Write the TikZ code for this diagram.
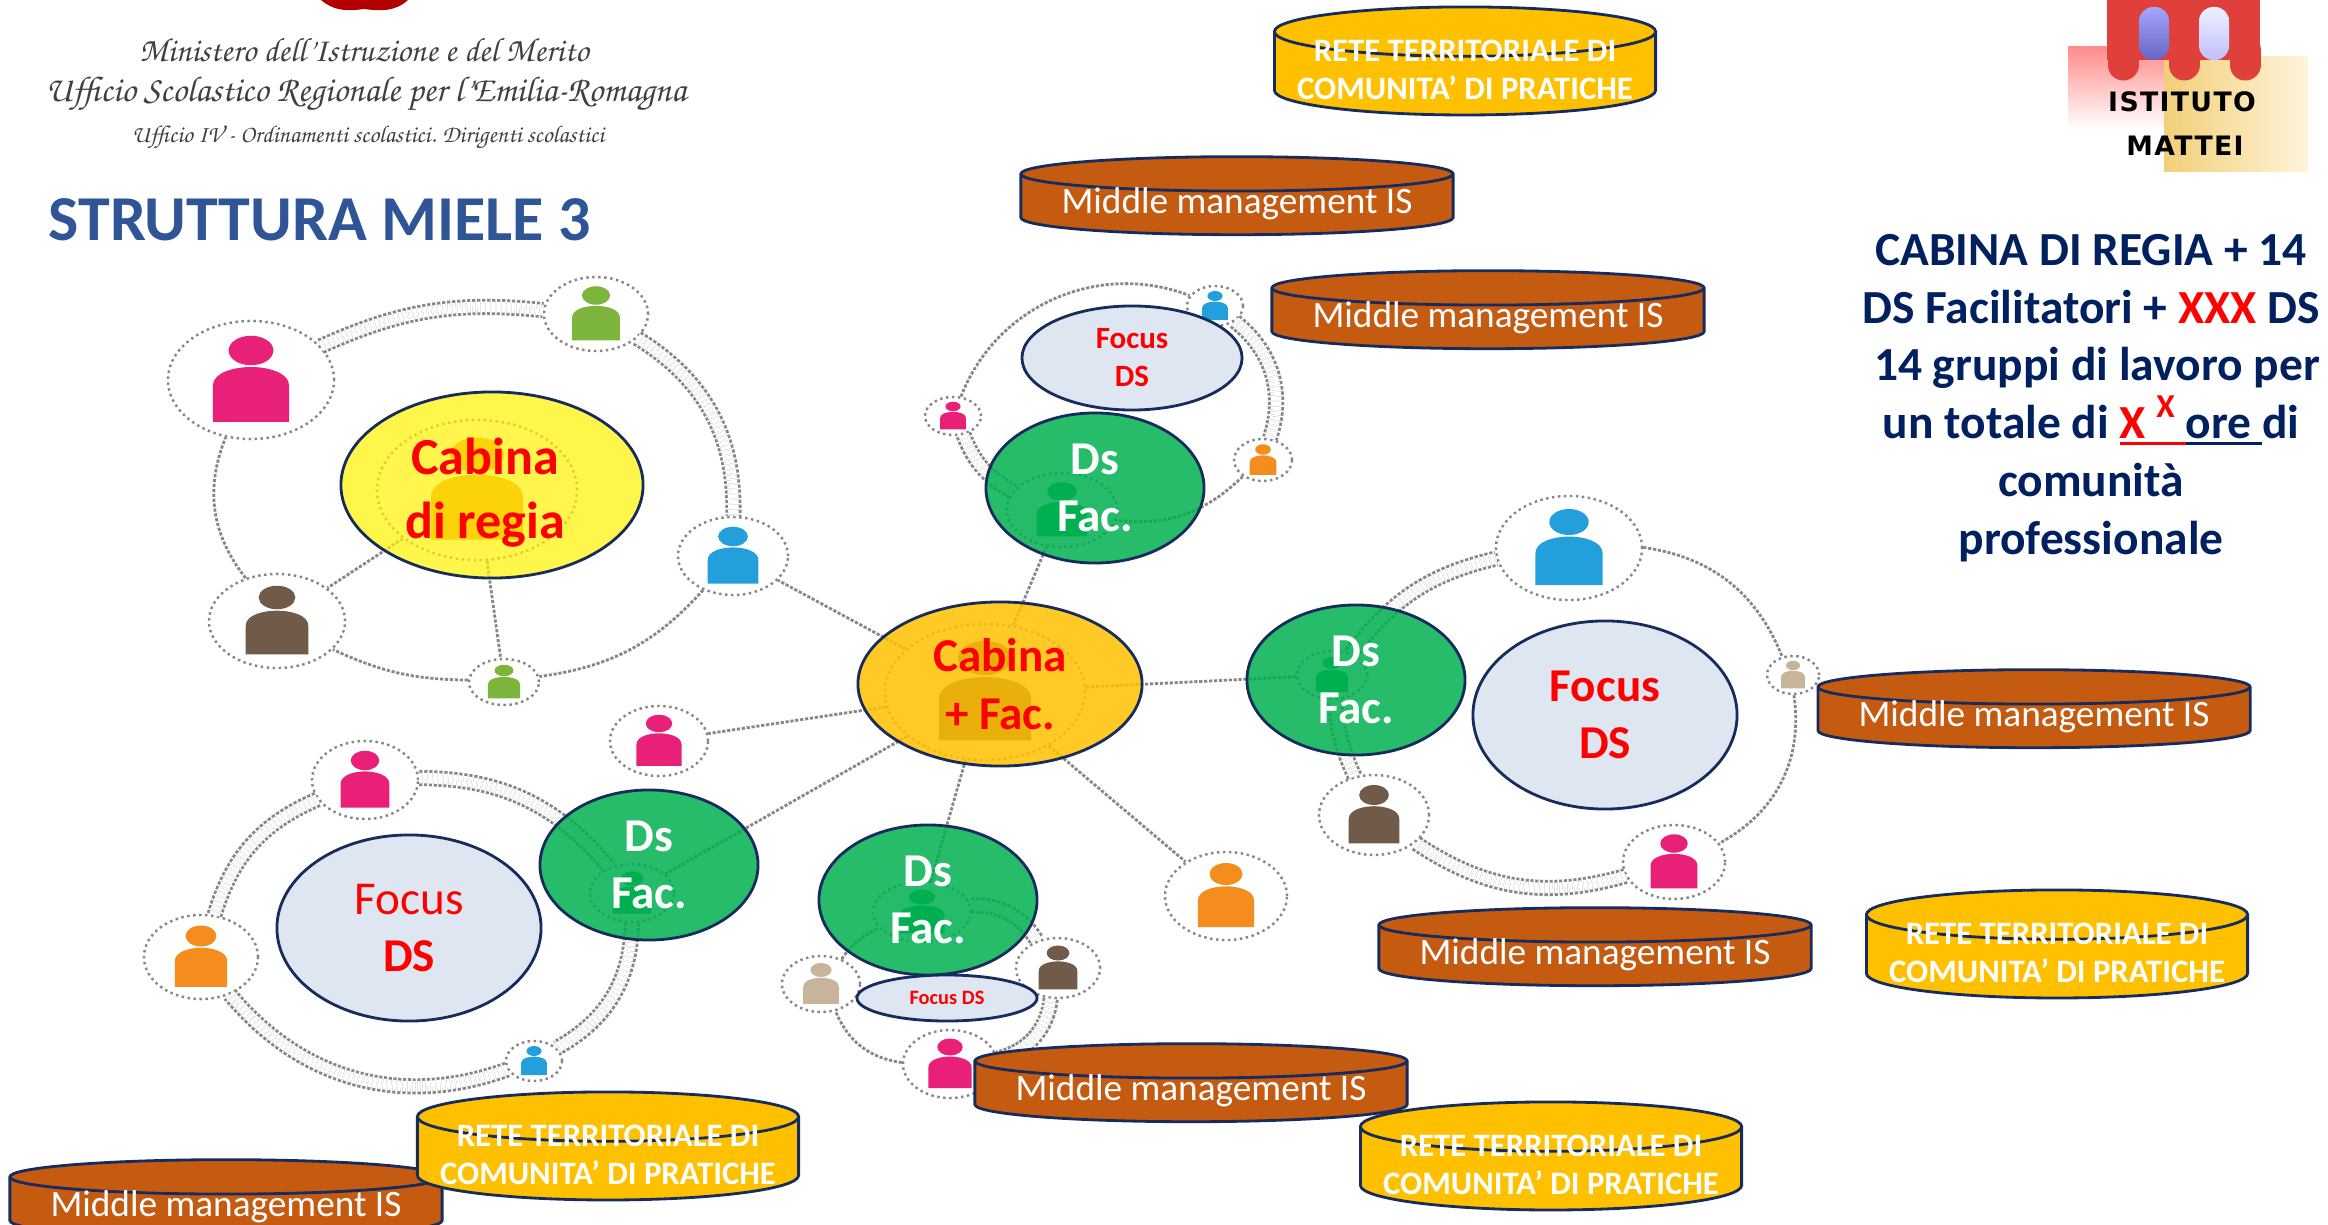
\documentclass[tikz,border=0pt]{standalone}
\usepackage{fontspec}
\usetikzlibrary{shapes.geometric}
\setmainfont{Carlito}
\newfontfamily\logofont[LetterSpace=5]{DejaVu Sans}
\definecolor{navy_line}{RGB}{23,44,92}
\definecolor{navy_text}{RGB}{0,32,96}
\definecolor{title_blue}{RGB}{47,85,151}
\definecolor{mgmt_brown}{RGB}{197,90,17}
\definecolor{rete_gold}{RGB}{255,192,0}
\definecolor{focus_blue}{RGB}{222,230,242}
\definecolor{ds_green}{RGB}{0,176,80}
\definecolor{hub_gold}{RGB}{255,192,0}
\definecolor{link_gray}{RGB}{135,135,135}
\definecolor{p_pink}{RGB}{232,32,120}
\definecolor{p_green}{RGB}{125,180,60}
\definecolor{p_blue}{RGB}{35,160,220}
\definecolor{p_brown}{RGB}{112,90,74}
\definecolor{p_orange}{RGB}{245,140,30}
\definecolor{p_beige}{RGB}{200,180,155}
\definecolor{logo_red}{RGB}{224,64,60}
\definecolor{logo_sand}{RGB}{242,207,120}
\definecolor{logo_pale}{RGB}{255,244,220}
\newcommand{\person}[6]{%
  \node[member,minimum width=#4*0.02cm,minimum height=#5*0.02cm] (#1) at (#2,#3) {};
  \begin{scope}[shift={(#2,#3)},xscale=#4,yscale=#5]
    \fill[#6] (0,-.5) ellipse (.27 and .25);
    \fill[#6] (-.46,.71) -- (-.46,.1) .. controls (-.46,-.13) and (-.2,-.22) .. (0,-.22)
      .. controls (.2,-.22) and (.46,-.13) .. (.46,.1) -- (.46,.71) -- cycle;
  \end{scope}}
\newcommand{\ulin}[1]{\sbox0{#1}\rlap{\rule[-.13em]{\wd0}{.07em}}\usebox0}
\newcommand{\mmtext}{\raisebox{-.22em}[0pt][0pt]{Middle management IS}}
\newcommand{\retetext}{\raisebox{-.22em}[0pt][0pt]{\begin{tabular}[c]{@{}c@{}}RETE TERRITORIALE DI\\COMUNITA’ DI PRATICHE\end{tabular}}}

\begin{document}
\begin{tikzpicture}[x=0.01cm,y=-0.01cm]
    \tikzstyle{member}=[draw=link_gray, densely dotted, line width=0.7pt, ellipse, inner sep=0pt, fill=white]
    \tikzstyle{link}=[draw=link_gray, line width=0.8pt, dash pattern=on 0.9pt off 0.5pt]
    \tikzstyle{twin}=[link, double, double distance=3pt]
    \tikzstyle{blob}=[ellipse, draw=navy_line, line width=0.8pt, inner sep=0pt, align=center, font=\bfseries\fontsize{13.4}{16.3}\selectfont]
    \tikzstyle{ds}=[blob, fill=ds_green, fill opacity=0.85, draw opacity=1, text opacity=1, text=white, minimum width=2.18cm, minimum height=1.5cm]
    \tikzstyle{focus}=[blob, fill=focus_blue, text=red]
    \tikzstyle{mgmt}=[cylinder, shape border rotate=90, draw=navy_line, line width=0.8pt, inner sep=0pt, aspect=0.098,
        cylinder uses custom fill, cylinder body fill=mgmt_brown, cylinder end fill=mgmt_brown,
        minimum width=4.32cm, minimum height=0.78cm, text=white, font=\fontsize{10.6}{12}\selectfont]
    \tikzstyle{rete}=[cylinder, shape border rotate=90, draw=navy_line, line width=0.8pt, inner sep=0pt, aspect=0.147,
        cylinder uses custom fill, cylinder body fill=rete_gold, cylinder end fill=rete_gold,
        minimum width=3.81cm, minimum height=1.08cm, text=white, font=\bfseries\fontsize{9.3}{10.8}\selectfont]

    \clip (0,0) rectangle (2328,1225);

    % header
    \fill[red!70!black] (321,0) .. controls (335,12) and (350,11) .. (364,9) .. controls (380,11) and (395,12) .. (408,0) -- cycle;
    \node[text=black!75, font=\fontsize{9.6}{12}\selectfont\usefont{OT1}{pzc}{mb}{it}] (min) at (364,50) {Ministero dell'Istruzione e del Merito};
    \node[text=black!75, font=\fontsize{10.2}{13}\selectfont\usefont{OT1}{pzc}{mb}{it}] (usr) at (366,94) {Ufficio Scolastico Regionale per l'Emilia-Romagna};
    \node[text=black!75, font=\fontsize{6.9}{9}\selectfont\usefont{OT1}{pzc}{mb}{it}] (uff) at (368,138) {Ufficio IV - Ordinamenti scolastici. Dirigenti scolastici};
    \node[anchor=west, inner sep=0pt, text=title_blue, font=\bfseries\fontsize{18.2}{20}\selectfont] (title) at (48,220) {STRUTTURA MIELE 3};

    % logo
    \shade[top color=red!45!white, bottom color=white] (2068,47) rectangle (2169,129);
    \shade[left color=logo_sand, right color=logo_pale] (2164,57) rectangle (2308,172);
    \fill[logo_red] (2107,0) rectangle (2260,60);
    \draw[logo_red, line width=0.31cm, line cap=round] (2123,50) -- (2123,65) (2184,50) -- (2184,65) (2245,50) -- (2245,65);
    \shade[top color=blue!35!white, bottom color=blue!60!black!60!white, rounded corners=4pt] (2139,7) rectangle (2169,60);
    \shade[top color=blue!6!white, bottom color=blue!25!white, rounded corners=4pt] (2199,7) rectangle (2229,60);
    \node[font=\logofont\bfseries\fontsize{7.6}{10}\selectfont] (ist) at (2182,102) {ISTITUTO};
    \node[font=\logofont\bfseries\fontsize{7.6}{10}\selectfont] (mat) at (2185,146) {MATTEI};

    % right text
    \node[align=center, inner sep=0pt, text=navy_text, font=\bfseries\fontsize{13.5}{16.4}\selectfont] (cab) at (2091,398)
      {CABINA DI REGIA + 14\\DS Facilitatori + \textcolor{red}{XXX} DS\\\hspace{0.25em}14 gruppi di lavoro per\\un totale di \textcolor{red}{\ulin{X\ \raisebox{.45em}{\fontsize{9.5}{9.5}\selectfont X}\ }}\ulin{ore\ }di\\comunità\\professionale};

    % persone
    \person{hubCenter}{985}{692}{100}{68}{p_brown}
    \person{hubA}{477}{490}{100}{70}{p_orange}
    \person{pinkA}{251}{380}{83}{59}{p_pink}
    \person{greenA}{596}{314}{52}{37}{p_green}
    \person{blueA}{733}{556}{55}{39}{p_blue}
    \person{greenB}{504}{682}{35}{23}{p_green}
    \person{brownA}{277}{621}{68}{47}{p_brown}

    \person{hubB}{1062}{510}{55}{37}{ds_green}
    \person{blueB}{1215}{306}{28}{20}{p_blue}
    \person{pinkB}{953}{416}{28}{19}{p_pink}
    \person{orangeB}{1263}{460}{29}{21}{p_orange}

    \person{hubC}{1332}{675}{35}{24}{ds_green}
    \person{blueC}{1569}{548}{73}{52}{p_blue}
    \person{beigeC}{1793}{675}{26}{19}{p_beige}
    \person{pinkC}{1674}{862}{51}{37}{p_pink}
    \person{brownC}{1374}{815}{55}{40}{p_brown}

    \person{hubD}{632}{893}{42}{29}{ds_green}
    \person{pinkD}{365}{780}{53}{39}{p_pink}
    \person{orangeD}{201}{957}{57}{42}{p_orange}
    \person{blueD}{534}{1061}{28}{20}{p_blue}

    \person{hubE}{922}{912}{49}{30}{ds_green}
    \person{beigeE}{821}{984}{39}{28}{p_beige}
    \person{brownE}{1058}{968}{42}{30}{p_brown}
    \person{pinkE}{950}{1064}{47}{34}{p_pink}

    \person{pinkF}{659}{741}{49}{35}{p_pink}
    \person{orangeF}{1226}{896}{61}{44}{p_orange}

    \path
     (pinkA)   edge[twin,bend left=15] (greenA)
     (greenA)  edge[twin,bend left=30] (blueA)
     (blueA)   edge[link,bend left=20] (greenB)
     (greenB)  edge[link,bend left=12] (brownA)
     (brownA)  edge[link,bend left=30] (pinkA)
     (hubA)    edge[link] (brownA)
     (hubA)    edge[link] (greenB)

     (pinkB)   edge[link,bend left=45] (blueB)
     (blueB)   edge[twin,bend left=35] (orangeB)
     (orangeB) edge[link,bend left=25] (hubB)
     (hubB)    edge[twin,bend left=20] (pinkB)

     (hubC)    edge[twin,bend left=20] (blueC)
     (blueC)   edge[link,bend left=30] (beigeC)
     (beigeC)  edge[link,bend left=35] (pinkC)
     (pinkC)   edge[twin,bend left=25] (brownC)
     (brownC)  edge[twin,bend left=10] (hubC)

     (pinkD)   edge[twin,bend left=25] (hubD)
     (hubD)    edge[twin,bend left=30] (blueD)
     (blueD)   edge[twin,bend left=35] (orangeD)
     (orangeD) edge[twin,bend left=25] (pinkD)

     (hubE)    edge[twin,bend left=30] (brownE)
     (brownE)  edge[twin,bend left=35] (pinkE)
     (pinkE)   edge[link,bend left=30] (beigeE)
     (beigeE)  edge[link,bend left=15] (hubE)

     (hubCenter) edge[link] (blueA)
     (hubCenter) edge[link] (hubB)
     (hubCenter) edge[link] (hubC)
     (hubCenter) edge[link] (pinkF)
     (hubCenter) edge[link] (hubD)
     (hubCenter) edge[link] (hubE)
     (hubCenter) edge[link] (orangeF)
     ;

    % ellissi
    \node[blob, fill=yellow, fill opacity=0.7, draw opacity=1, text opacity=1, text=red, minimum width=3.02cm, minimum height=1.86cm, font=\bfseries\fontsize{14.8}{18.2}\selectfont] (cabina) at (492,485) {\rule{0pt}{15pt}Cabina\hspace*{4pt}\\di regia\hspace*{4pt}};
    \node[blob, fill=hub_gold, fill opacity=0.85, draw opacity=1, text opacity=1, text=red, minimum width=2.84cm, minimum height=1.64cm] (center) at (1000,684) {Cabina\\+ Fac.};
    \node[ds] (dsB) at (1095,488) {Ds\\Fac.};
    \node[ds] (dsC) at (1356,680) {Ds\\Fac.};
    \node[ds] (dsD) at (649,865)  {Ds\\Fac.};
    \node[ds] (dsE) at (928,900)  {Ds\\Fac.};
    \node[focus, minimum width=2.2cm, minimum height=1.04cm, font=\bfseries\fontsize{8.8}{10.8}\selectfont] (focusB) at (1132,358) {Focus\\DS};
    \node[focus, minimum width=2.64cm, minimum height=1.88cm] (focusC) at (1605,715) {Focus\\DS};
    \node[focus, minimum width=2.64cm, minimum height=1.86cm] (focusD) at (409,928) {{\mdseries Focus}\\DS};
    \node[focus, minimum width=1.8cm, minimum height=0.46cm, font=\bfseries\fontsize{5.8}{7}\selectfont] (focusE) at (947,998) {Focus DS};

    % cilindri
    \node[rete] (reteA) at (1465,74) {\retetext};
    \node[mgmt] (mgmtA) at (1237,205) {\mmtext};
    \node[mgmt] (mgmtB) at (1488,319) {\mmtext};
    \node[mgmt] (mgmtC) at (2034,718) {\mmtext};
    \node[mgmt] (mgmtD) at (1595,956) {\mmtext};
    \node[rete] (reteB) at (2057,957) {\retetext};
    \node[mgmt] (mgmtE) at (1191,1092) {\mmtext};
    \node[rete] (reteC) at (1551,1169) {\retetext};
    \node[mgmt] (mgmtF) at (226,1208) {\mmtext};
    \node[rete] (reteD) at (608,1159) {\retetext};
\end{tikzpicture}
\end{document}
